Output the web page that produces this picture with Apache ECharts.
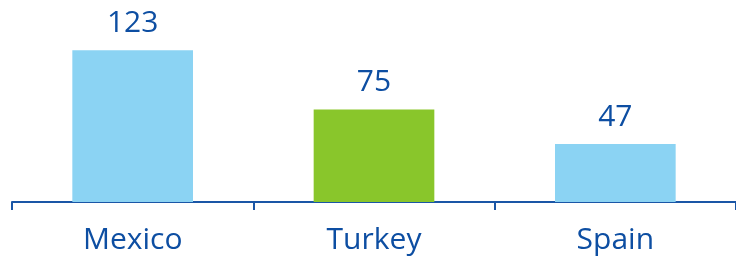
<!DOCTYPE html>
<html>
<head>
<meta charset="utf-8">
<script src="https://cdn.jsdelivr.net/npm/echarts@6/dist/echarts.min.js"></script>
<style>
  html, body { margin: 0; padding: 0; background: #fff; }
  #chart { width: 736px; height: 257px; }
</style>
</head>
<body>
<div id="chart"></div>
<script>
  // data
  const categories = ['Mexico', 'Turkey', 'Spain'];
  const values = [123, 75, 47];
  const barColors = ['#8bd3f3', '#89c62b', '#8bd3f3'];

  const textBlue = '#0d4ea2';

  const chart = echarts.init(document.getElementById('chart'));

  const option = {
    animation: false,
    grid: {
      left: 12,
      top: 17,
      width: 729,
      bottom: 55,
      containLabel: false
    },
    xAxis: {
      type: 'category',
      data: categories,
      axisLine: { lineStyle: { color: '#1a56a6', width: 2 } },
      axisTick: { show: true, length: 8, lineStyle: { color: '#1a56a6', width: 2 } },
      axisLabel: {
        color: textBlue,
        fontFamily: 'Open Sans',
        fontSize: 30,
        fontWeight: 500,
        margin: 23
      }
    },
    yAxis: {
      type: 'value',
      min: 0,
      max: 150,
      show: false,
      splitLine: { show: false }
    },
    series: [{
      type: 'bar',
      barWidth: '50%',
      data: values.map(function (v, i) {
        return { value: v, itemStyle: { color: barColors[i] } };
      }),
      label: {
        show: true,
        position: 'top',
        distance: 12,
        color: textBlue,
        fontFamily: 'Open Sans',
        fontSize: 30,
        fontWeight: 500
      }
    }]
  };

  chart.setOption(option);
</script>
</body>
</html>
